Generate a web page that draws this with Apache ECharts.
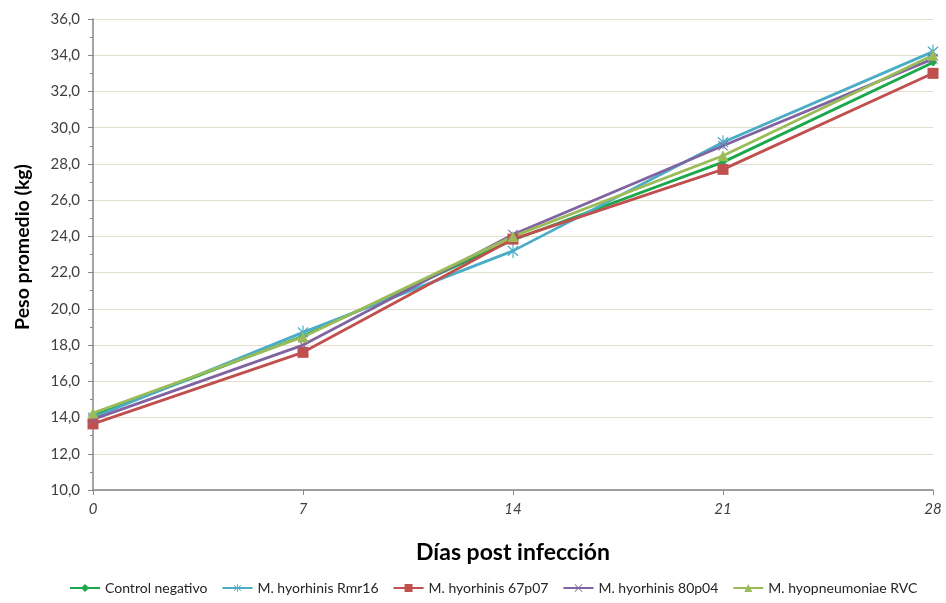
<!DOCTYPE html>
<html>
<head>
<meta charset="utf-8">
<script src="https://cdn.jsdelivr.net/npm/echarts@6/dist/echarts.min.js"></script>
<style>
  html, body { margin: 0; padding: 0; background: #ffffff; }
  #chart { width: 946px; height: 603px; }
</style>
</head>
<body>
<div id="chart"></div>
<script>
// Days post infection
const days = [0, 7, 14, 21, 28];

// Mean weight (kg) per group
const controlNegativo = [14.1, 18.5, 23.8, 28.1, 33.6];
const rmr16 = [14.0, 18.7, 23.2, 29.2, 34.2];
const p67p07 = [13.65, 17.6, 23.85, 27.7, 33.0];
const p80p04 = [13.9, 18.0, 24.1, 29.0, 33.8];
const rvc = [14.25, 18.45, 24.0, 28.45, 34.0];

const seriesNames = [
  'Control negativo',
  'M. hyorhinis Rmr16',
  'M. hyorhinis 67p07',
  'M. hyorhinis 80p04',
  'M. hyopneumoniae RVC'
];

// Marker shapes
const starPath = 'path://M-0.08,-1L0.08,-1L0.08,1L-0.08,1Z' +
  'M-0.76,-0.64L-0.64,-0.76L0.76,0.64L0.64,0.76Z' +
  'M0.64,-0.76L0.76,-0.64L-0.64,0.76L-0.76,0.64Z';
const crossPath = 'path://M-1,-0.86L-0.86,-1L1,0.86L0.86,1Z' +
  'M0.86,-1L1,-0.86L-0.86,1L-1,0.86Z';

function pairs(values) {
  return days.map((d, i) => [d, values[i]]);
}

function makeSeries(name, values, color, symbol, size) {
  return {
    name: name,
    type: 'line',
    data: pairs(values),
    symbol: symbol,
    symbolSize: size,
    showAllSymbol: true,
    lineStyle: { color: color, width: 2.8 },
    itemStyle: { color: color },
    emphasis: { disabled: true },
    z: 2
  };
}

const fontFamily = 'Lato, "Open Sans", sans-serif';

const chart = echarts.init(document.getElementById('chart'), null, { renderer: 'canvas' });
chart.setOption({
  animation: false,
  backgroundColor: '#ffffff',
  textStyle: { fontFamily: fontFamily },
  grid: { left: 93, right: 13, top: 19, bottom: 113, containLabel: false },
  legend: {
    bottom: 3,
    left: 64,
    itemWidth: 30,
    itemHeight: 10,
    itemGap: 14,
    textStyle: { fontFamily: fontFamily, fontSize: 14, color: '#262626' },
    data: seriesNames
  },
  xAxis: {
    type: 'value',
    min: 0,
    max: 28,
    interval: 7,
    name: 'Días post infección',
    nameLocation: 'middle',
    nameGap: 51,
    nameTextStyle: { fontFamily: fontFamily, fontSize: 23, fontWeight: 'bold', color: '#000000' },
    axisLine: { show: true, lineStyle: { color: '#868686', width: 1.5 } },
    axisTick: { show: true, length: 5, lineStyle: { color: '#868686' } },
    axisLabel: { fontStyle: 'italic', fontSize: 15, color: '#404040', margin: 12 },
    splitLine: { show: false }
  },
  yAxis: {
    type: 'value',
    min: 10,
    max: 36,
    interval: 2,
    name: 'Peso promedio (kg)',
    nameLocation: 'middle',
    nameGap: 60,
    nameTextStyle: {
      fontFamily: fontFamily,
      fontSize: 19.5,
      fontWeight: 'bold',
      color: '#000000',
      padding: [0, 0, 0, 15]
    },
    axisLine: { show: true, lineStyle: { color: '#868686', width: 1.5 } },
    axisTick: { show: true, length: 5, lineStyle: { color: '#868686' } },
    minorTick: { show: true, splitNumber: 2, length: 3, lineStyle: { color: '#868686' } },
    axisLabel: {
      fontSize: 15,
      color: '#404040',
      margin: 13,
      formatter: v => v.toFixed(1).replace('.', ',')
    },
    splitLine: { show: true, lineStyle: { color: '#e2decb', width: 1 } }
  },
  series: [
    makeSeries(seriesNames[0], controlNegativo, '#1aa84a', 'diamond', 8),
    makeSeries(seriesNames[1], rmr16, '#4bacc6', starPath, [11, 14]),
    makeSeries(seriesNames[2], p67p07, '#c0504d', 'rect', 11),
    makeSeries(seriesNames[3], p80p04, '#8064a2', crossPath, 10),
    makeSeries(seriesNames[4], rvc, '#9bbb59', 'triangle', 11)
  ]
});
</script>
</body>
</html>
